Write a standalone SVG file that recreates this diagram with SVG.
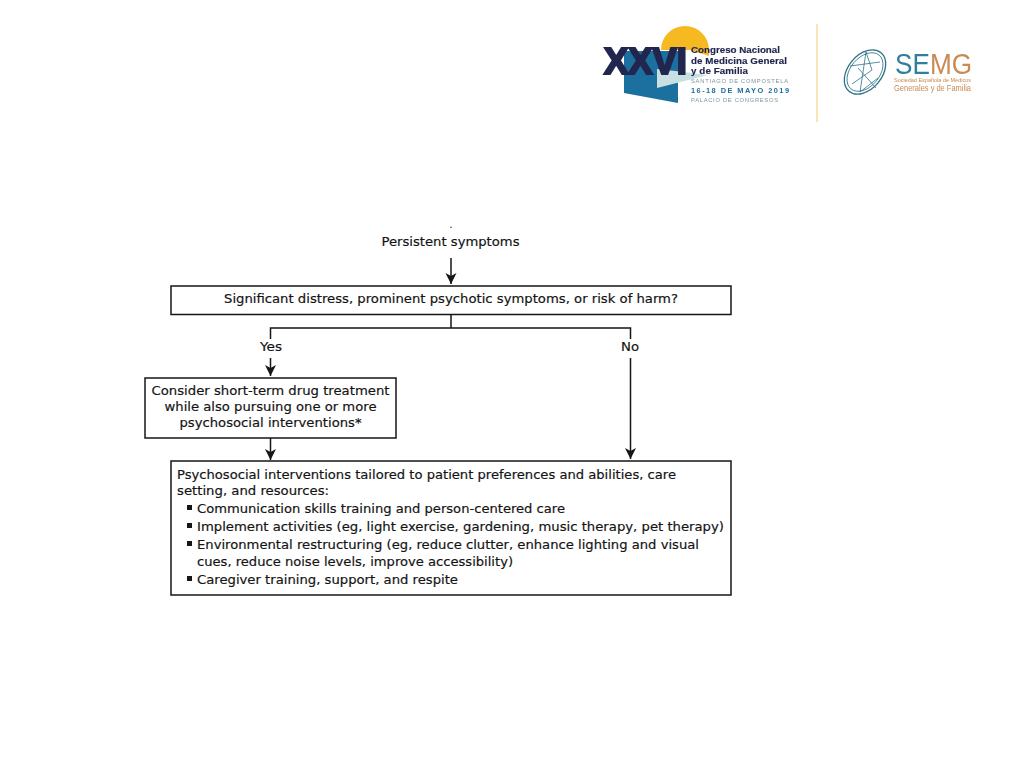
<svg xmlns="http://www.w3.org/2000/svg" width="1024" height="768" viewBox="0 0 1024 768">
<style>
.t{font-family:"DejaVu Sans",Verdana,sans-serif;font-size:12.4px;fill:#141414;stroke:#141414;stroke-width:.18}
.m{text-anchor:middle}
.b{fill:#fff;stroke:#161616;stroke-width:1.5}
.l{fill:none;stroke:#161616;stroke-width:1.5}
.h{font-family:"Liberation Sans",Arial,sans-serif;font-weight:700;font-size:9.8px;fill:#22284f;stroke:#22284f;stroke-width:.15}
.s{font-family:"Liberation Sans",Arial,sans-serif;font-size:5.8px;fill:#7d95a0}
.g{font-family:"Liberation Sans",Arial,sans-serif}
</style>
<defs>
<marker id="a" markerUnits="userSpaceOnUse" markerWidth="12" markerHeight="12" refX="11" refY="5.500" orient="auto"><path d="M0 0L11 5.500L0 11L3 5.500Z" fill="#161616"/></marker>
<filter id="soft" x="-5%" y="-5%" width="110%" height="110%"><feGaussianBlur stdDeviation="0.35"/></filter>
</defs>
<rect width="1024" height="768" fill="#fff"/>
<g id="logo-congreso" filter="url(#soft)">
<path d="M661 50A24 24 0 0 1 709 50L709 56L690 50Z" fill="#f6b923"/>
<path d="M624 51L684 51L684 72L678 78L678 103L624 93Z" fill="#1d6f9f"/>
<path d="M657 69L684 72L708 75L657 88Z" fill="#c9e0e2"/>
<text x="604" y="73.500" font-family="Liberation Sans,Arial,sans-serif" font-weight="700" font-size="36" fill="#22284f" stroke="#22284f" stroke-width="2.200" textLength="83" lengthAdjust="spacingAndGlyphs">XXVI</text>
<text class="h" x="691" y="53" textLength="89">Congreso Nacional</text>
<text class="h" x="691" y="63.500" textLength="96">de Medicina General</text>
<text class="h" x="691" y="73.500" textLength="57">y de Familia</text>
<text class="s" x="691" y="83" textLength="97">SANTIAGO DE COMPOSTELA</text>
<text x="691" y="93" font-family="Liberation Sans,Arial,sans-serif" font-weight="700" font-size="7.400" fill="#1d6f9f" textLength="98">16-18 DE MAYO 2019</text>
<text class="s" x="691" y="101.500" textLength="87">PALACIO DE CONGRESOS</text>
</g>
<path id="logo-divider" d="M817 24V122" stroke="#f3dfa6" stroke-width="1.6" fill="none"/>
<g id="logo-semg" filter="url(#soft)">
<g fill="none" stroke="#2d7286" stroke-width="0.8">
<ellipse cx="865" cy="72" rx="17" ry="25" transform="rotate(40 865 72)" stroke-width="1.3"/>
<ellipse cx="865" cy="72" rx="14.500" ry="22" transform="rotate(40 865 72)"/>
<path d="M866 52L860 92M850 66L880 62M860 92L878 78M852 84L872 70M858 68L876 88M866 52L872 70"/>
</g>
<text class="g" x="895" y="74" font-size="30" textLength="77" lengthAdjust="spacingAndGlyphs"><tspan fill="#2f7f9d">SE</tspan><tspan fill="#c98a52">MG</tspan></text>
<text class="g" x="894" y="82" font-size="6" fill="#c98a52" textLength="77" lengthAdjust="spacingAndGlyphs">Sociedad Española de Médicos</text>
<text class="g" x="894" y="90.500" font-size="8.600" fill="#c98a52" textLength="77" lengthAdjust="spacingAndGlyphs">Generales y de Familia</text>
</g>
<g id="connectors">
<path class="l" d="M451 258V284" marker-end="url(#a)"/>
<path class="l" d="M451 315V328M270.500 339V328H630.500V339"/>
<path class="l" d="M270.500 358V376" marker-end="url(#a)"/>
<path class="l" d="M630.500 358V459" marker-end="url(#a)"/>
<path class="l" d="M270.500 438V460" marker-end="url(#a)"/>
</g>
<text class="t m" x="451" y="228" style="font-size:9px">.</text>
<g id="n-persistent"><text class="t m" x="450.500" y="246" textLength="138" lengthAdjust="spacingAndGlyphs">Persistent symptoms</text></g>
<g id="n-question">
<rect class="b" x="171" y="286" width="560" height="28.500"/>
<text class="t m" x="451" y="303" textLength="454" lengthAdjust="spacingAndGlyphs">Significant distress, prominent psychotic symptoms, or risk of harm?</text>
</g>
<g id="l-yes"><text class="t m" x="271" y="350.500" textLength="22" lengthAdjust="spacingAndGlyphs">Yes</text></g>
<g id="l-no"><text class="t m" x="630" y="350.500" textLength="18" lengthAdjust="spacingAndGlyphs">No</text></g>
<g id="n-drug">
<rect class="b" x="145" y="378" width="251" height="60"/>
<text class="t m" x="270.500" y="395" textLength="238" lengthAdjust="spacingAndGlyphs">Consider short-term drug treatment</text>
<text class="t m" x="270.500" y="411" textLength="212" lengthAdjust="spacingAndGlyphs">while also pursuing one or more</text>
<text class="t m" x="270.500" y="427" textLength="182" lengthAdjust="spacingAndGlyphs">psychosocial interventions*</text>
</g>
<g id="n-psychosocial">
<rect class="b" x="171" y="461" width="560" height="134"/>
<text class="t" x="177" y="479" textLength="499" lengthAdjust="spacingAndGlyphs">Psychosocial interventions tailored to patient preferences and abilities, care</text>
<text class="t" x="177" y="495" textLength="152" lengthAdjust="spacingAndGlyphs">setting, and resources:</text>
<rect x="187" y="505" width="5" height="5" fill="#161616"/>
<text class="t" x="197" y="513" textLength="368" lengthAdjust="spacingAndGlyphs">Communication skills training and person-centered care</text>
<rect x="187" y="523" width="5" height="5" fill="#161616"/>
<text class="t" x="197" y="531" textLength="527" lengthAdjust="spacingAndGlyphs">Implement activities (eg, light exercise, gardening, music therapy, pet therapy)</text>
<rect x="187" y="541" width="5" height="5" fill="#161616"/>
<text class="t" x="197" y="549" textLength="502" lengthAdjust="spacingAndGlyphs">Environmental restructuring (eg, reduce clutter, enhance lighting and visual</text>
<text class="t" x="197" y="566" textLength="316" lengthAdjust="spacingAndGlyphs">cues, reduce noise levels, improve accessibility)</text>
<rect x="187" y="576" width="5" height="5" fill="#161616"/>
<text class="t" x="197" y="584" textLength="261" lengthAdjust="spacingAndGlyphs">Caregiver training, support, and respite</text>
</g>
</svg>
